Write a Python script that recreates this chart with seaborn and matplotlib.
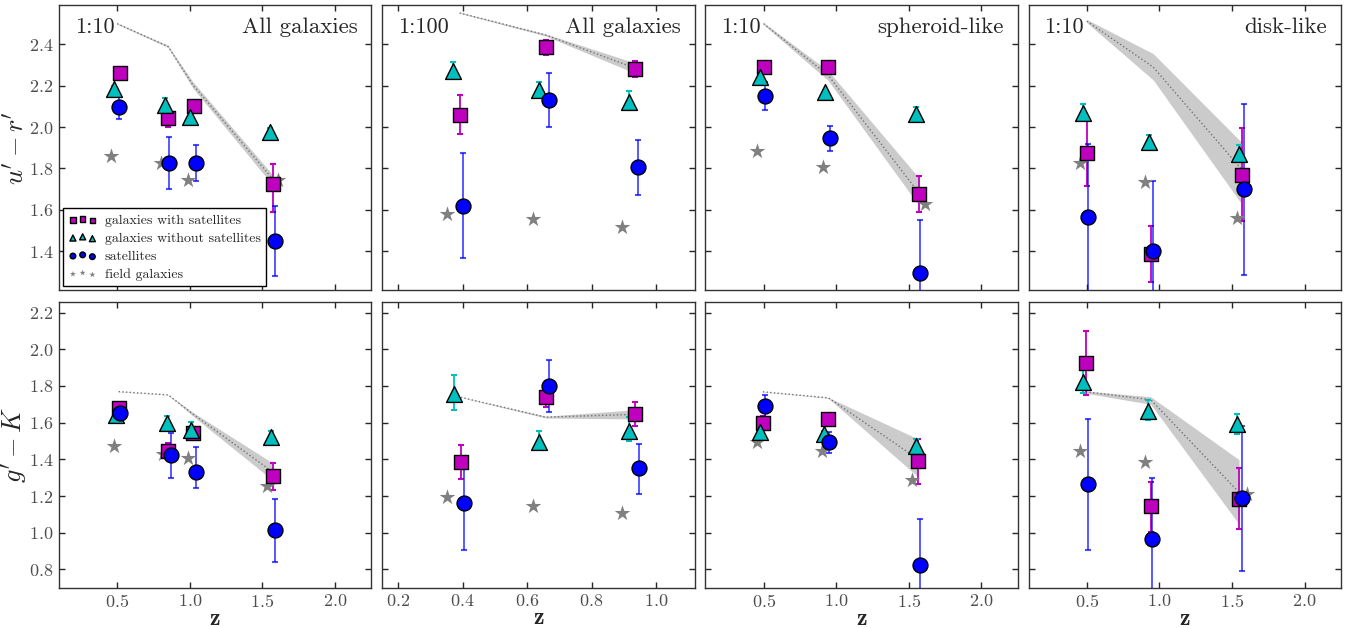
import numpy as np
import matplotlib
matplotlib.use("Agg")
import matplotlib.pyplot as plt
import seaborn as sns

# colours of u'-r' (top row) and g'-K (bottom row) vs redshift, 8 panels
# order of panels: top row left->right, then bottom row left->right
ratio = ["1:10", "1:100", "1:10", "1:10", None, None, None, None]
sample = ["All galaxies", "All galaxies", "spheroid-like", "disk-like", None, None, None, None]

# galaxies with satellites (squares)
sq_x = [[0.52, 0.85, 1.03, 1.57], [0.39, 0.658, 0.935], [0.50, 0.945, 1.573], [0.498, 0.945, 1.571],
        [0.51, 0.852, 1.023, 1.573], [0.394, 0.658, 0.935], [0.495, 0.946, 1.566], [0.493, 0.94, 1.548]]
sq_y = [[2.26, 2.045, 2.10, 1.725], [2.06, 2.385, 2.28], [2.292, 2.288, 1.678], [1.874, 1.387, 1.77],
        [1.68, 1.448, 1.544, 1.307], [1.387, 1.738, 1.648], [1.596, 1.618, 1.389], [1.924, 1.144, 1.186]]
sq_lo = [[2.25, 2.00, 2.08, 1.59], [1.965, 2.35, 2.24], [2.28, 2.275, 1.587], [1.715, 1.249, 1.547],
         [1.66, 1.42, 1.52, 1.231], [1.291, 1.687, 1.579], [1.57, 1.60, 1.267], [1.753, 1.005, 1.023]]
sq_hi = [[2.27, 2.07, 2.12, 1.82], [2.155, 2.42, 2.32], [2.30, 2.30, 1.762], [2.041, 1.523, 1.993],
         [1.70, 1.49, 1.57, 1.381], [1.48, 1.777, 1.711], [1.636, 1.635, 1.51], [2.099, 1.279, 1.351]]

# galaxies without satellites (triangles)
tri_x = [[0.48, 0.83, 1.00, 1.555], [0.371, 0.637, 0.915], [0.473, 0.925, 1.55], [0.477, 0.927, 1.55],
         [0.489, 0.841, 1.011, 1.557], [0.373, 0.637, 0.915], [0.473, 0.919, 1.548], [0.473, 0.921, 1.536]]
tri_y = [[2.185, 2.105, 2.05, 1.975], [2.27, 2.178, 2.122], [2.244, 2.169, 2.062], [2.068, 1.929, 1.871],
         [1.644, 1.599, 1.562, 1.521], [1.754, 1.495, 1.556], [1.551, 1.537, 1.474], [1.822, 1.663, 1.591]]
tri_lo = [[2.17, 2.08, 2.03, 1.96], [2.234, 2.145, 2.081], [2.23, 2.16, 2.05], [2.036, 1.894, 1.834],
          [1.62, 1.58, 1.54, 1.50], [1.669, 1.45, 1.498], [1.535, 1.52, 1.455], [1.762, 1.614, 1.537]]
tri_hi = [[2.20, 2.14, 2.07, 1.995], [2.314, 2.217, 2.174], [2.26, 2.18, 2.097], [2.11, 1.961, 1.914],
          [1.675, 1.638, 1.602, 1.557], [1.858, 1.552, 1.633], [1.60, 1.555, 1.51], [1.888, 1.721, 1.645]]

# satellites (circles)
sat_x = [[0.51, 0.86, 1.04, 1.585], [0.401, 0.668, 0.944], [0.507, 0.957, 1.58], [0.507, 0.957, 1.582],
         [0.523, 0.868, 1.045, 1.586], [0.404, 0.668, 0.946], [0.507, 0.953, 1.578], [0.505, 0.949, 1.571]]
sat_y = [[2.095, 1.825, 1.825, 1.45], [1.62, 2.13, 1.805], [2.148, 1.949, 1.292], [1.564, 1.40, 1.698],
         [1.653, 1.421, 1.33, 1.013], [1.162, 1.799, 1.351], [1.69, 1.492, 0.825], [1.263, 0.966, 1.189]]
sat_lo = [[2.04, 1.70, 1.74, 1.28], [1.368, 2.0, 1.671], [2.081, 1.886, 1.0], [1.0, 1.0, 1.284],
          [1.597, 1.298, 1.242, 0.84], [0.908, 1.657, 1.21], [1.63, 1.434, 0.6], [0.906, 0.6, 0.793]]
sat_hi = [[2.15, 1.95, 1.915, 1.62], [1.874, 2.261, 1.939], [2.217, 2.006, 1.552], [1.918, 1.738, 2.113],
          [1.702, 1.542, 1.466, 1.186], [1.417, 1.939, 1.486], [1.753, 1.551, 1.074], [1.618, 1.299, 1.582]]

# field galaxies (stars)
fld_x = [[0.46, 0.80, 0.985, 1.61], [0.35, 0.617, 0.894], [0.454, 0.906, 1.614], [0.454, 0.90, 1.532],
         [0.477, 0.818, 0.989, 1.53], [0.352, 0.619, 0.894], [0.454, 0.903, 1.525], [0.45, 0.899, 1.605]]
fld_y = [[1.86, 1.825, 1.745, 1.745], [1.58, 1.556, 1.515], [1.882, 1.807, 1.627], [1.826, 1.734, 1.559],
         [1.475, 1.43, 1.407, 1.254], [1.196, 1.144, 1.108], [1.495, 1.443, 1.285], [1.447, 1.384, 1.213]]

# model (dotted line + grey band)
mod_x = [[0.50, 0.85, 1.02, 1.57], [0.39, 0.658, 0.935], [0.50, 0.945, 1.56], [0.50, 0.957, 1.56],
         [0.51, 0.852, 1.023, 1.573], [0.394, 0.658, 0.935], [0.495, 0.946, 1.566], [0.493, 0.94, 1.548]]
mod_y = [[2.50, 2.39, 2.205, 1.75], [2.552, 2.445, 2.285], [2.50, 2.25, 1.69], [2.512, 2.29, 1.80],
         [1.769, 1.751, 1.646, 1.33], [1.738, 1.63, 1.645], [1.768, 1.735, 1.40], [1.768, 1.725, 1.22]]
mod_lo = [[2.497, 2.385, 2.19, 1.72], [2.55, 2.44, 2.26], [2.495, 2.225, 1.63], [2.505, 2.228, 1.634],
          [1.768, 1.75, 1.635, 1.285], [1.737, 1.625, 1.62], [1.767, 1.733, 1.303], [1.76, 1.70, 1.047]]
mod_hi = [[2.503, 2.395, 2.22, 1.77], [2.555, 2.45, 2.31], [2.505, 2.272, 1.762], [2.52, 2.355, 1.93],
          [1.77, 1.752, 1.655, 1.379], [1.739, 1.635, 1.67], [1.769, 1.737, 1.51], [1.772, 1.741, 1.398]]

labels = ["galaxies with satellites", "galaxies without satellites", "satellites", "field galaxies"]

sns.set_style("ticks")
plt.rcParams["font.family"] = ["cmr10", "DejaVu Serif"]
plt.rcParams["mathtext.fontset"] = "cm"
plt.rcParams["axes.formatter.use_mathtext"] = True
plt.rcParams["axes.edgecolor"] = "0.2"
plt.rcParams["axes.linewidth"] = 1.0

fig, axes = plt.subplots(2, 4, figsize=(13.51, 6.28), dpi=100, sharey="row")
fig.subplots_adjust(left=0.0437, right=0.9926, top=0.992, bottom=0.064, wspace=0.035, hspace=0.042)


def errbars(ax, x, y, lo, hi, c, alpha=1.0):
    y = np.array(y)
    yerr = [y - np.array(lo), np.array(hi) - y]
    ax.errorbar(x, y, yerr=yerr, fmt="none", ecolor=c, elinewidth=1.3,
                capsize=2.5, capthick=1.5, alpha=alpha, zorder=3)


for i, ax in enumerate(axes.flat):
    # model band
    ax.fill_between(mod_x[i], mod_lo[i], mod_hi[i], color="0.55", alpha=0.45, lw=0, zorder=1)
    sns.lineplot(x=mod_x[i], y=mod_y[i], color="0.45", ls=":", lw=1, sort=False,
                 estimator=None, ax=ax, zorder=2)

    errbars(ax, sq_x[i], sq_y[i], sq_lo[i], sq_hi[i], "m")
    errbars(ax, tri_x[i], tri_y[i], tri_lo[i], tri_hi[i], "c")
    errbars(ax, sat_x[i], sat_y[i], sat_lo[i], sat_hi[i], "b", alpha=0.7)

    sns.scatterplot(x=fld_x[i], y=fld_y[i], marker="*", color="grey", s=140,
                    linewidth=0, ax=ax, zorder=4, label=labels[3])
    sns.scatterplot(x=sq_x[i], y=sq_y[i], marker="s", color="m", edgecolor="k", s=110,
                    linewidth=1, ax=ax, zorder=5, label=labels[0])
    sns.scatterplot(x=tri_x[i], y=tri_y[i], marker="^", color="c", edgecolor="k", s=130,
                    linewidth=1, ax=ax, zorder=6, label=labels[1])
    sns.scatterplot(x=sat_x[i], y=sat_y[i], marker="o", color="b", edgecolor="k", s=115,
                    linewidth=1, ax=ax, zorder=7, label=labels[2])

    ax.tick_params(direction="in", top=True, right=True, length=4, width=1,
                   labelsize=13, color="0.15", labelcolor="0.3", pad=4)
    if ax.get_legend() is not None:
        ax.get_legend().remove()

    col = i % 4
    if col == 1:
        ax.set_xlim(0.15, 1.12)
        ax.set_xticks([0.2, 0.4, 0.6, 0.8, 1.0])
    else:
        ax.set_xlim(0.1, 2.25)
        ax.set_xticks([0.5, 1.0, 1.5, 2.0])

    if i < 4:
        ax.tick_params(labelbottom=False)
        ax.text(0.05, 0.955, ratio[i], transform=ax.transAxes, ha="left", va="top", fontsize=16)
        ax.text(0.955, 0.955, sample[i], transform=ax.transAxes, ha="right", va="top", fontsize=16.5)
    else:
        ax.set_xlabel(r"$\mathbf{z}$", fontsize=17, labelpad=-2)

axes[0, 0].set_ylim(1.21, 2.59)
axes[0, 0].set_yticks([1.4, 1.6, 1.8, 2.0, 2.2, 2.4])
axes[1, 0].set_ylim(0.7, 2.255)
axes[1, 0].set_yticks([0.8, 1.0, 1.2, 1.4, 1.6, 1.8, 2.0, 2.2])
axes[0, 0].set_ylabel(r"$u' - r'$", fontsize=19, labelpad=0)
axes[1, 0].set_ylabel(r"$g' - K$", fontsize=19, labelpad=0)

# legend in first panel, order squares, triangles, circles, stars
h, l = axes[0, 0].get_legend_handles_labels()
order = [l.index(lab) for lab in labels]
leg = axes[0, 0].legend([h[k] for k in order], labels, loc="lower left", scatterpoints=3,
                        markerscale=0.38, fontsize=10, frameon=True, fancybox=False,
                        edgecolor="k", framealpha=1, borderaxespad=0.3,
                        handletextpad=0.6, labelspacing=0.38, handlelength=2.0)
leg.get_frame().set_linewidth(1.0)

fig.savefig("out.png", dpi=100)
